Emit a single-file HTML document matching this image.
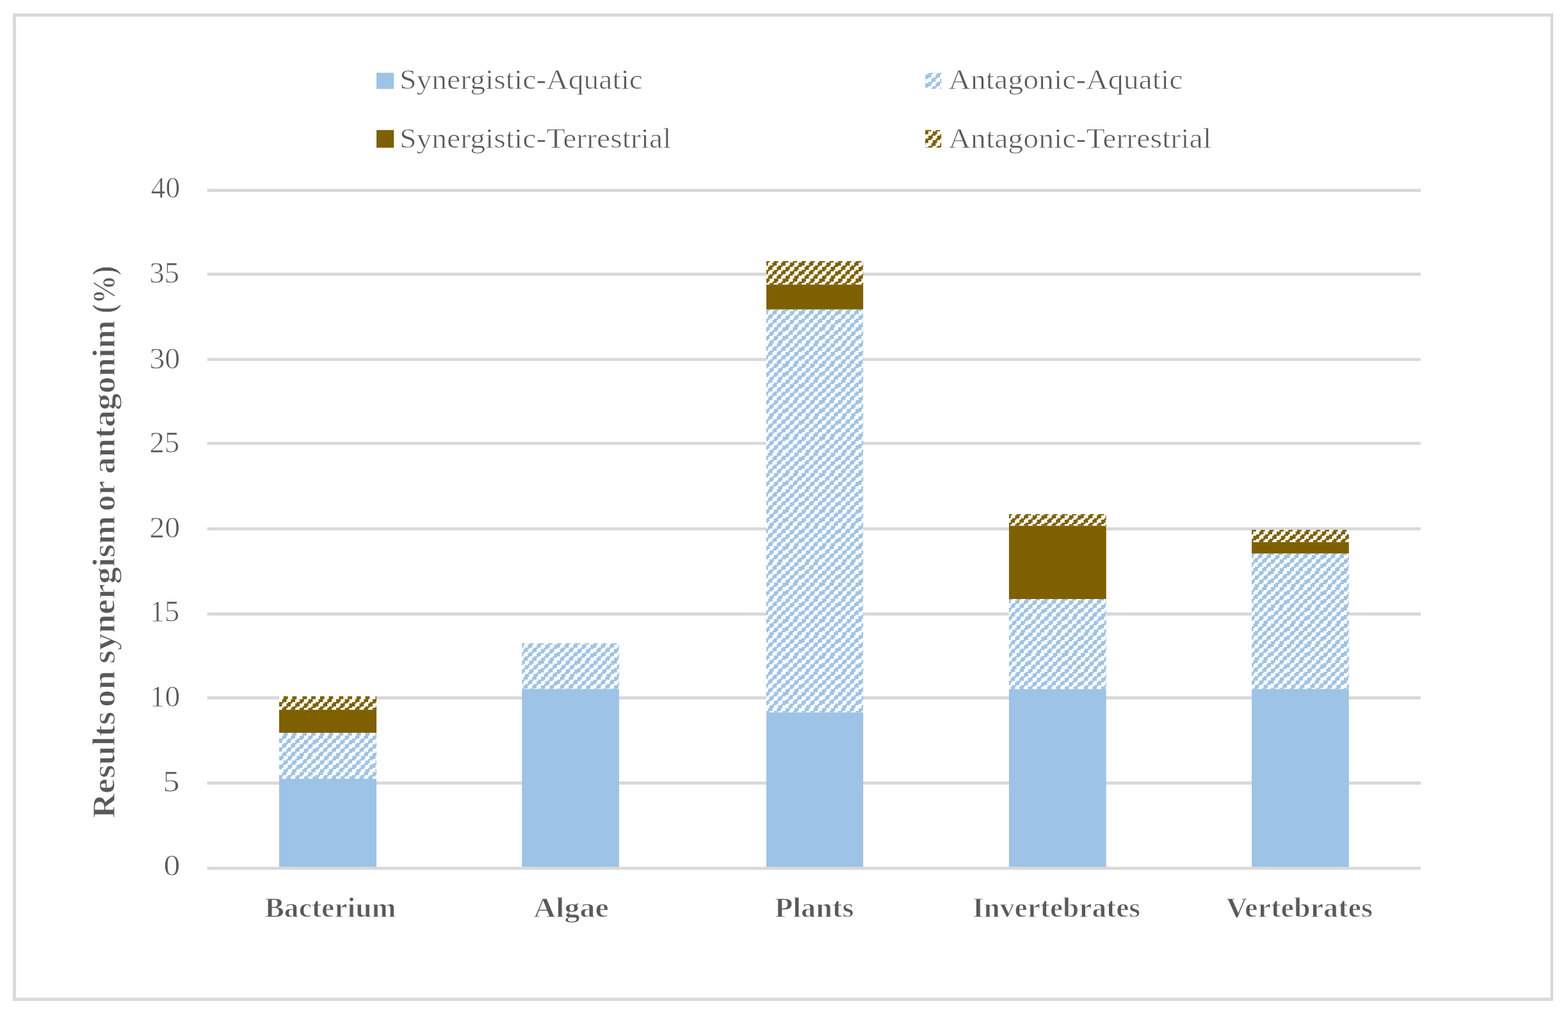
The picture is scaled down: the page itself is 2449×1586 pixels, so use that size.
<!DOCTYPE html>
<html lang="en">
<head>
<meta charset="utf-8">
<title>Results on synergism or antagonim (%)</title>
<style>
html,body{margin:0;padding:0;background:#fff;}
body{width:2449px;height:1586px;overflow:hidden;}
svg{display:block;}
text{font-family:"Liberation Serif",serif;fill:#595959;}
.b{font-weight:bold;}
</style>
</head>
<body>
<svg width="2449" height="1586" viewBox="0 0 2449 1586">
<defs>
<pattern id="ha" x="0" y="0" width="57.0000" height="57.0000" patternUnits="userSpaceOnUse">
<rect width="57.0000" height="57.0000" fill="#fff"/>
<path fill="#9DC3E6" d="M0.00 0.00H6.84V2.32H0.00ZM13.68 0.00H20.52V2.32H13.68ZM27.36 0.00H36.48V2.32H27.36ZM43.32 0.00H50.16V2.32H43.32ZM0.00 2.28H4.56V6.88H0.00ZM11.40 2.28H18.24V6.88H11.40ZM25.08 2.28H31.92V6.88H25.08ZM38.76 2.28H45.60V6.88H38.76ZM52.44 2.28H57.00V6.88H52.44ZM6.84 6.84H13.68V9.16H6.84ZM20.52 6.84H27.36V9.16H20.52ZM36.48 6.84H43.32V9.16H36.48ZM50.16 6.84H57.00V9.16H50.16ZM4.56 9.12H11.40V13.72H4.56ZM18.24 9.12H25.08V13.72H18.24ZM31.92 9.12H38.76V13.72H31.92ZM45.60 9.12H52.44V13.72H45.60ZM0.00 13.68H6.84V16.00H0.00ZM13.68 13.68H20.52V16.00H13.68ZM27.36 13.68H36.48V16.00H27.36ZM43.32 13.68H50.16V16.00H43.32ZM0.00 15.96H4.56V20.56H0.00ZM11.40 15.96H18.24V20.56H11.40ZM25.08 15.96H31.92V20.56H25.08ZM38.76 15.96H45.60V20.56H38.76ZM52.44 15.96H57.00V20.56H52.44ZM6.84 20.52H13.68V22.84H6.84ZM20.52 20.52H27.36V22.84H20.52ZM36.48 20.52H43.32V22.84H36.48ZM50.16 20.52H57.00V22.84H50.16ZM4.56 22.80H11.40V27.40H4.56ZM18.24 22.80H25.08V27.40H18.24ZM31.92 22.80H38.76V27.40H31.92ZM45.60 22.80H52.44V27.40H45.60ZM0.00 27.36H6.84V31.96H0.00ZM13.68 27.36H20.52V31.96H13.68ZM27.36 27.36H36.48V31.96H27.36ZM43.32 27.36H50.16V31.96H43.32ZM0.00 31.92H4.56V34.24H0.00ZM11.40 31.92H18.24V34.24H11.40ZM25.08 31.92H31.92V34.24H25.08ZM38.76 31.92H45.60V34.24H38.76ZM52.44 31.92H57.00V34.24H52.44ZM6.84 34.20H13.68V38.80H6.84ZM20.52 34.20H27.36V38.80H20.52ZM36.48 34.20H43.32V38.80H36.48ZM50.16 34.20H57.00V38.80H50.16ZM4.56 38.76H11.40V41.08H4.56ZM18.24 38.76H25.08V41.08H18.24ZM31.92 38.76H38.76V41.08H31.92ZM45.60 38.76H52.44V41.08H45.60ZM0.00 41.04H6.84V45.64H0.00ZM13.68 41.04H20.52V45.64H13.68ZM27.36 41.04H36.48V45.64H27.36ZM43.32 41.04H50.16V45.64H43.32ZM0.00 45.60H4.56V47.92H0.00ZM11.40 45.60H18.24V47.92H11.40ZM25.08 45.60H31.92V47.92H25.08ZM38.76 45.60H45.60V47.92H38.76ZM52.44 45.60H57.00V47.92H52.44ZM6.84 47.88H13.68V52.48H6.84ZM20.52 47.88H27.36V52.48H20.52ZM36.48 47.88H43.32V52.48H36.48ZM50.16 47.88H57.00V52.48H50.16ZM4.56 52.44H11.40V57.04H4.56ZM18.24 52.44H25.08V57.04H18.24ZM31.92 52.44H38.76V57.04H31.92ZM45.60 52.44H52.44V57.04H45.60Z"/>
</pattern>
<pattern id="hb" x="0" y="0" width="57.0000" height="57.0000" patternUnits="userSpaceOnUse">
<rect width="57.0000" height="57.0000" fill="#fff"/>
<path fill="#7F6000" d="M0.00 0.00H6.84V2.32H0.00ZM13.68 0.00H20.52V2.32H13.68ZM27.36 0.00H36.48V2.32H27.36ZM43.32 0.00H50.16V2.32H43.32ZM0.00 2.28H4.56V6.88H0.00ZM11.40 2.28H18.24V6.88H11.40ZM25.08 2.28H31.92V6.88H25.08ZM38.76 2.28H45.60V6.88H38.76ZM52.44 2.28H57.00V6.88H52.44ZM6.84 6.84H13.68V9.16H6.84ZM20.52 6.84H27.36V9.16H20.52ZM36.48 6.84H43.32V9.16H36.48ZM50.16 6.84H57.00V9.16H50.16ZM4.56 9.12H11.40V13.72H4.56ZM18.24 9.12H25.08V13.72H18.24ZM31.92 9.12H38.76V13.72H31.92ZM45.60 9.12H52.44V13.72H45.60ZM0.00 13.68H6.84V16.00H0.00ZM13.68 13.68H20.52V16.00H13.68ZM27.36 13.68H36.48V16.00H27.36ZM43.32 13.68H50.16V16.00H43.32ZM0.00 15.96H4.56V20.56H0.00ZM11.40 15.96H18.24V20.56H11.40ZM25.08 15.96H31.92V20.56H25.08ZM38.76 15.96H45.60V20.56H38.76ZM52.44 15.96H57.00V20.56H52.44ZM6.84 20.52H13.68V22.84H6.84ZM20.52 20.52H27.36V22.84H20.52ZM36.48 20.52H43.32V22.84H36.48ZM50.16 20.52H57.00V22.84H50.16ZM4.56 22.80H11.40V27.40H4.56ZM18.24 22.80H25.08V27.40H18.24ZM31.92 22.80H38.76V27.40H31.92ZM45.60 22.80H52.44V27.40H45.60ZM0.00 27.36H6.84V31.96H0.00ZM13.68 27.36H20.52V31.96H13.68ZM27.36 27.36H36.48V31.96H27.36ZM43.32 27.36H50.16V31.96H43.32ZM0.00 31.92H4.56V34.24H0.00ZM11.40 31.92H18.24V34.24H11.40ZM25.08 31.92H31.92V34.24H25.08ZM38.76 31.92H45.60V34.24H38.76ZM52.44 31.92H57.00V34.24H52.44ZM6.84 34.20H13.68V38.80H6.84ZM20.52 34.20H27.36V38.80H20.52ZM36.48 34.20H43.32V38.80H36.48ZM50.16 34.20H57.00V38.80H50.16ZM4.56 38.76H11.40V41.08H4.56ZM18.24 38.76H25.08V41.08H18.24ZM31.92 38.76H38.76V41.08H31.92ZM45.60 38.76H52.44V41.08H45.60ZM0.00 41.04H6.84V45.64H0.00ZM13.68 41.04H20.52V45.64H13.68ZM27.36 41.04H36.48V45.64H27.36ZM43.32 41.04H50.16V45.64H43.32ZM0.00 45.60H4.56V47.92H0.00ZM11.40 45.60H18.24V47.92H11.40ZM25.08 45.60H31.92V47.92H25.08ZM38.76 45.60H45.60V47.92H38.76ZM52.44 45.60H57.00V47.92H52.44ZM6.84 47.88H13.68V52.48H6.84ZM20.52 47.88H27.36V52.48H20.52ZM36.48 47.88H43.32V52.48H36.48ZM50.16 47.88H57.00V52.48H50.16ZM4.56 52.44H11.40V57.04H4.56ZM18.24 52.44H25.08V57.04H18.24ZM31.92 52.44H38.76V57.04H31.92ZM45.60 52.44H52.44V57.04H45.60Z"/>
</pattern>
</defs>
<rect width="2449" height="1586" fill="#fff"/>
<path fill="#D9D9D9" fill-rule="evenodd" d="M20 21.1H2426V1563.9H20Z M25 26.1V1559.1H2421.5V26.1Z"/>
<rect x="323.6" y="295.0" width="1895.3" height="5.00" fill="#D9D9D9"/>
<rect x="323.6" y="426.0" width="1895.3" height="4.90" fill="#D9D9D9"/>
<rect x="323.6" y="559.3" width="1895.3" height="4.70" fill="#D9D9D9"/>
<rect x="323.6" y="690.4" width="1895.3" height="4.60" fill="#D9D9D9"/>
<rect x="323.6" y="824.0" width="1895.3" height="4.70" fill="#D9D9D9"/>
<rect x="323.6" y="957.0" width="1895.3" height="4.90" fill="#D9D9D9"/>
<rect x="323.6" y="1088.0" width="1895.3" height="4.90" fill="#D9D9D9"/>
<rect x="323.6" y="1221.1" width="1895.3" height="4.90" fill="#D9D9D9"/>
<g transform="translate(436,1097)"><rect x="0.00" y="-9.00" width="152.00" height="21.10" fill="url(#hb)"/></g>
<rect x="436.0" y="1109.1" width="152.0" height="35.90" fill="#7F6000"/>
<g transform="translate(436,1154)"><rect x="0.00" y="-9.00" width="152.00" height="72.00" fill="url(#ha)"/></g>
<rect x="436.0" y="1217.0" width="152.0" height="139.50" fill="#9DC3E6"/>
<g transform="translate(813,1005)"><rect x="2.20" y="0.10" width="151.70" height="71.60" fill="url(#ha)"/></g>
<rect x="815.2" y="1076.7" width="151.7" height="279.80" fill="#9DC3E6"/>
<g transform="translate(1195,408)"><rect x="1.90" y="0.00" width="151.30" height="36.70" fill="url(#hb)"/></g>
<rect x="1196.9" y="444.7" width="151.3" height="39.00" fill="#7F6000"/>
<g transform="translate(1195,484)"><rect x="1.90" y="-0.30" width="151.30" height="629.60" fill="url(#ha)"/></g>
<rect x="1196.9" y="1113.3" width="151.3" height="243.20" fill="#9DC3E6"/>
<g transform="translate(1574,803)"><rect x="1.90" y="0.30" width="151.80" height="18.30" fill="url(#hb)"/></g>
<rect x="1575.9" y="821.6" width="151.8" height="114.40" fill="#7F6000"/>
<g transform="translate(1574,936)"><rect x="1.90" y="0.00" width="151.80" height="140.90" fill="url(#ha)"/></g>
<rect x="1575.9" y="1076.9" width="151.8" height="279.60" fill="#9DC3E6"/>
<g transform="translate(1962,835)"><rect x="-7.00" y="-7.10" width="151.80" height="19.25" fill="url(#hb)"/></g>
<rect x="1955.0" y="847.15" width="151.8" height="17.75" fill="#7F6000"/>
<g transform="translate(1953,865)"><rect x="2.00" y="-0.10" width="151.80" height="211.70" fill="url(#ha)"/></g>
<rect x="1955.0" y="1076.6" width="151.8" height="279.90" fill="#9DC3E6"/>
<rect x="323.6" y="1354.4" width="1895.3" height="4.70" fill="#D9D9D9"/>
<rect x="588" y="113.7" width="27.2" height="25.2" fill="#9DC3E6"/>
<rect x="588" y="203.2" width="27.2" height="27.6" fill="#7F6000"/>
<g transform="translate(1450,114)"><rect x="-5.00" y="-0.30" width="25.20" height="25.20" fill="url(#ha)"/></g>
<g transform="translate(1450,171)"><rect x="-5.00" y="32.20" width="25.20" height="27.60" fill="url(#hb)"/></g>
<text x="623.95" y="139.25" font-size="44.3" textLength="380.08" lengthAdjust="spacingAndGlyphs" stroke="#fff" stroke-width="0.7">Synergistic-Aquatic</text>
<text x="623.96" y="231.15" font-size="44.3" textLength="424.55" lengthAdjust="spacingAndGlyphs" stroke="#fff" stroke-width="0.7">Synergistic-Terrestrial</text>
<text x="1481.49" y="139.25" font-size="44.3" textLength="366.02" lengthAdjust="spacingAndGlyphs" stroke="#fff" stroke-width="0.7">Antagonic-Aquatic</text>
<text x="1481.50" y="231.15" font-size="44.3" textLength="410.51" lengthAdjust="spacingAndGlyphs" stroke="#fff" stroke-width="0.7">Antagonic-Terrestrial</text>
<text class="b" x="413.48" y="1432.90" font-size="45.0" textLength="205.04" lengthAdjust="spacingAndGlyphs" stroke="#fff" stroke-width="1.0">Bacterium</text>
<text class="b" x="833.21" y="1432.90" font-size="45.0" textLength="117.83" lengthAdjust="spacingAndGlyphs" stroke="#fff" stroke-width="1.0">Algae</text>
<text class="b" x="1209.95" y="1432.90" font-size="45.0" textLength="123.59" lengthAdjust="spacingAndGlyphs" stroke="#fff" stroke-width="1.0">Plants</text>
<text class="b" x="1518.96" y="1432.90" font-size="45.0" textLength="262.06" lengthAdjust="spacingAndGlyphs" stroke="#fff" stroke-width="1.0">Invertebrates</text>
<text class="b" x="1914.98" y="1432.90" font-size="45.0" textLength="229.04" lengthAdjust="spacingAndGlyphs" stroke="#fff" stroke-width="1.0">Vertebrates</text>
<text x="235.70" y="309.15" font-size="45.6" textLength="45.43" lengthAdjust="spacingAndGlyphs" stroke="#fff" stroke-width="0.7">40</text>
<text x="233.44" y="442.05" font-size="45.6" textLength="46.84" lengthAdjust="spacingAndGlyphs" stroke="#fff" stroke-width="0.7">35</text>
<text x="233.42" y="575.65" font-size="45.6" textLength="47.82" lengthAdjust="spacingAndGlyphs" stroke="#fff" stroke-width="0.7">30</text>
<text x="233.57" y="706.75" font-size="45.6" textLength="46.70" lengthAdjust="spacingAndGlyphs" stroke="#fff" stroke-width="0.7">25</text>
<text x="233.53" y="840.15" font-size="45.6" textLength="47.70" lengthAdjust="spacingAndGlyphs" stroke="#fff" stroke-width="0.7">20</text>
<text x="233.72" y="970.85" font-size="45.6" textLength="46.72" lengthAdjust="spacingAndGlyphs" stroke="#fff" stroke-width="0.7">15</text>
<text x="233.71" y="1104.05" font-size="45.6" textLength="47.66" lengthAdjust="spacingAndGlyphs" stroke="#fff" stroke-width="0.7">10</text>
<text x="254.35" y="1237.45" font-size="45.6" textLength="26.33" lengthAdjust="spacingAndGlyphs" stroke="#fff" stroke-width="0.7">5</text>
<text x="255.53" y="1368.15" font-size="45.6" textLength="25.94" lengthAdjust="spacingAndGlyphs" stroke="#fff" stroke-width="0.7">0</text>
<g class="b">
<text transform="translate(178.95,1278.54) rotate(-90)" font-size="51.0" textLength="166.57" lengthAdjust="spacingAndGlyphs" stroke="#fff" stroke-width="1.0">Results</text>
<text transform="translate(178.95,1104.67) rotate(-90)" font-size="51.0" textLength="56.82" lengthAdjust="spacingAndGlyphs" stroke="#fff" stroke-width="1.0">on</text>
<text transform="translate(178.95,1037.04) rotate(-90)" font-size="51.0" textLength="231.08" lengthAdjust="spacingAndGlyphs" stroke="#fff" stroke-width="1.0">synergism</text>
<text transform="translate(178.95,798.69) rotate(-90)" font-size="51.0" textLength="47.32" lengthAdjust="spacingAndGlyphs" stroke="#fff" stroke-width="1.0">or</text>
<text transform="translate(178.95,740.52) rotate(-90)" font-size="51.0" textLength="240.06" lengthAdjust="spacingAndGlyphs" stroke="#fff" stroke-width="1.0">antagonim</text>
<text transform="translate(178.95,489.65) rotate(-90)" font-size="51.0" textLength="74.26" lengthAdjust="spacingAndGlyphs" stroke="#fff" stroke-width="1.0">(%)</text>
</g>
</svg>
</body>
</html>
